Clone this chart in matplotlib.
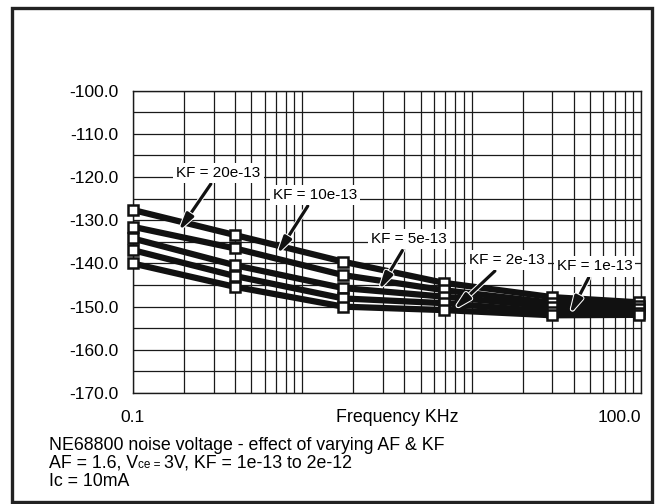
import matplotlib
matplotlib.use('Agg')
import matplotlib.pyplot as plt
from matplotlib.patches import Rectangle
from matplotlib.ticker import MultipleLocator, LogLocator, NullFormatter
import matplotlib.patheffects as pe

plt.rcParams['font.family'] = ['Liberation Sans', 'DejaVu Sans']

# frequency points of the sweep (kHz)
freq_khz = [0.1, 0.4, 1.75, 6.9, 30, 97]

# noise voltage (dB) for each KF value
noise_kf20 = [-127.6, -133.4, -139.6, -144.5, -147.8, -149.0]
noise_kf10 = [-131.5, -136.5, -142.7, -146.2, -149.1, -149.9]
noise_kf5 = [-134.2, -140.4, -145.7, -147.7, -150.0, -150.6]
noise_kf2 = [-136.9, -142.9, -148.1, -149.2, -151.2, -151.4]
noise_kf1 = [-140.0, -145.4, -150.0, -150.8, -152.0, -151.9]

kf_labels = ['KF = 20e-13', 'KF = 10e-13', 'KF = 5e-13', 'KF = 2e-13', 'KF = 1e-13']

y_ticks = [-170, -160, -150, -140, -130, -120, -110, -100]

fig = plt.figure(figsize=(6.55, 5.04), dpi=100)
ax = fig.add_axes([0.2026, 0.2202, 0.776, 0.5998])

ax.set_xscale('log')
ax.set_xlim(0.1, 100)
ax.set_ylim(-170, -100)

ax.set_yticks(y_ticks)
ax.set_yticklabels(['%.1f' % v for v in y_ticks])
ax.yaxis.set_minor_locator(MultipleLocator(5))
ax.xaxis.set_major_locator(LogLocator(base=10))
ax.xaxis.set_minor_locator(LogLocator(base=10, subs=range(2, 10)))
ax.xaxis.set_major_formatter(NullFormatter())
ax.xaxis.set_minor_formatter(NullFormatter())
ax.tick_params(which='both', length=0)
ax.tick_params(axis='y', labelsize=12.5, pad=10)

ax.grid(True, which='both', color='#1a1a1a', linewidth=0.9)
ax.set_axisbelow(True)
for s in ax.spines.values():
    s.set_color('#1a1a1a')
    s.set_linewidth(1.0)

all_noise = [noise_kf20, noise_kf10, noise_kf5, noise_kf2, noise_kf1]
for vals in all_noise:
    ax.plot(freq_khz, vals, color='#111111', linewidth=4.5, solid_capstyle='butt',
            marker='s', markersize=7, markerfacecolor='white',
            markeredgecolor='#111111', markeredgewidth=1.8,
            clip_on=False, zorder=3)

# label boxes with arrows pointing at the curves
label_pos = [(0.321, -119.0), (1.19, -124.1), (4.28, -134.4), (16.1, -139.2), (53.2, -140.7)]
arrow_tip = [(0.186, -132.6), (0.708, -138.0), (2.82, -146.3), (7.81, -150.8), (37.8, -151.9)]
for text, xyt, tip in zip(kf_labels, label_pos, arrow_tip):
    ax.annotate(text, xy=tip, xytext=xyt, ha='center', va='center',
                fontsize=11, zorder=5,
                bbox=dict(boxstyle='square,pad=0.2', fc='white', ec='none'),
                arrowprops=dict(arrowstyle='-|>,head_length=0.9,head_width=0.22',
                                color='#111111', lw=2.3, shrinkA=1, shrinkB=0,
                                path_effects=[pe.withStroke(linewidth=3.8, foreground='white')]))

# x axis labels share one row under the plot
xrow = ax.get_xaxis_transform()
ax.text(0.1, -0.08, '0.1', transform=xrow, ha='center', va='center', fontsize=12.5)
ax.text(100, -0.08, '100.0', transform=xrow, ha='right', va='center', fontsize=12.5,
        clip_on=False)
ax.text(0.52, -0.08, 'Frequency KHz', transform=ax.transAxes, ha='center', va='center',
        fontsize=12.8)

# caption lines
renderer = fig.canvas.get_renderer()
fs = 12.8
x0 = 49 / 655
fig.text(x0, 1 - 450.5 / 504, 'NE68800 noise voltage - effect of varying AF & KF',
         fontsize=fs, va='baseline')
pieces = [('AF = 1.6, V', fs), ('ce = ', 8.5), ('3V, KF = 1e-13 to 2e-12', fs)]
x = x0
for s, size in pieces:
    t = fig.text(x, 1 - 468 / 504, s, fontsize=size, va='baseline')
    x += t.get_window_extent(renderer).width / fig.bbox.width
fig.text(x0, 1 - 485.5 / 504, 'Ic = 10mA', fontsize=fs, va='baseline')

# outer border
fig.patches.append(Rectangle((12 / 655, 2 / 504), 640 / 655, 494 / 504,
                             transform=fig.transFigure, fill=False,
                             edgecolor='#222222', linewidth=2.4))

fig.savefig('out.png', dpi=100)
